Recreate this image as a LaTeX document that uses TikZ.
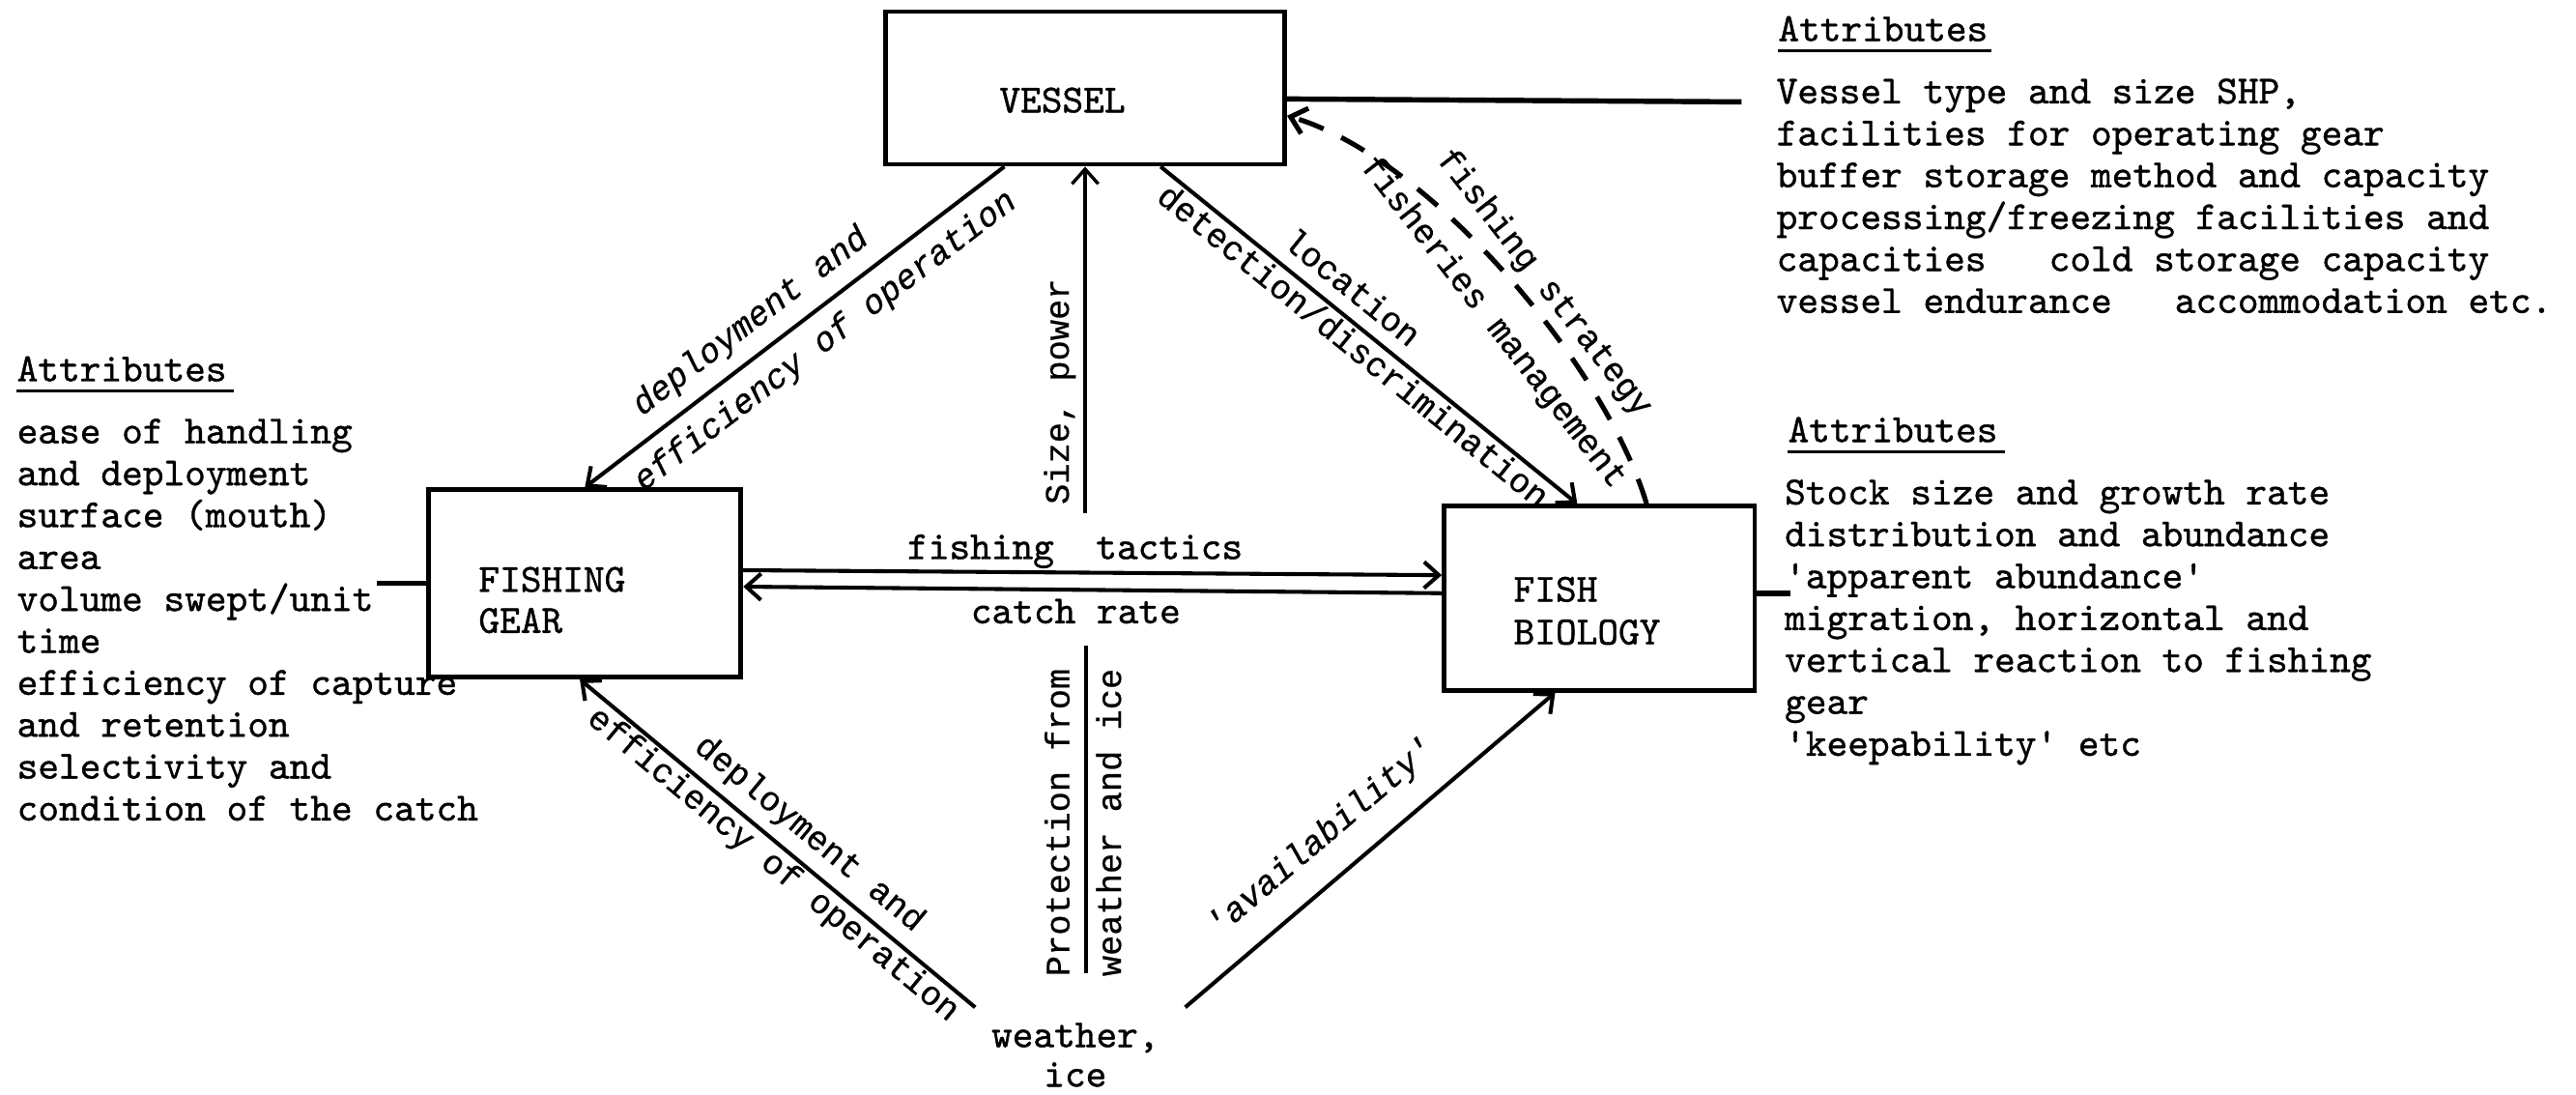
\documentclass[tikz,border=0pt]{standalone}
\usepackage{fontspec}
\usetikzlibrary{arrows.meta,calc}
\newfontfamily\courfont{Liberation Mono}[FakeBold=0.6]
\newfontfamily\typefam{lmmono10-regular}[Extension=.otf, FakeBold=0.9]
\newcommand\attrfont{\typefam\fontsize{12.15}{12.75}\selectfont}
\newcommand\labfont{\courfont\fontsize{10.4}{12}\selectfont}
\newcommand\itlabfont{\courfont\itshape\fontsize{10.4}{12}\selectfont}

\tikzset{
  unitbox/.style={draw, line width=1.4pt, inner sep=0pt, rectangle},
  boxtext/.style={font=\attrfont, inner sep=0pt, align=left},
  attrtext/.style={font=\attrfont, inner sep=0pt, align=left, anchor=north west},
  heading/.style={font=\attrfont, inner sep=0pt, anchor=base west},
  underl/.style={line width=0.8pt},
  lab/.style={font=\labfont, inner sep=1.5pt, text height=6.6pt, text depth=2.2pt},
  itlab/.style={lab, font=\itlabfont},
  midlab/.style={font=\attrfont, text height=7.4pt, text depth=2.6pt},
  link/.style={line width=1.2pt, -{Straight Barb[length=4.5pt,width=8pt]}},
  dashlink/.style={link, line width=1.5pt, dash pattern=on 8pt off 6pt},
  plain/.style={line width=1.1pt},
  stub/.style={line width=1.6pt},
}

\begin{document}
\begin{tikzpicture}[x=0.5pt, y=-0.5pt]
\path[use as bounding box] (0,0) rectangle (1568,666);

% the three units
\node[unitbox, minimum width=121.5pt, minimum height=46.5pt] (vessel) at (660.5,53.5) {};
\node[unitbox, minimum width=95pt, minimum height=57pt] (gear) at (356,355) {};
\node[unitbox, minimum width=94.5pt, minimum height=56pt] (fb) at (973.5,364) {};

\node[boxtext, anchor=base west] (vtxt) at (608,68.4) {VESSEL};
\node[boxtext, anchor=north west, font=\typefam\fontsize{12.15}{12.5}\selectfont] (gtxt) at (291,344.6) {FISHING\\GEAR};
\node[boxtext, anchor=north west, font=\typefam\fontsize{12.15}{13}\selectfont] (ftxt) at (921,350.6) {FISH\\BIOLOGY};

\node[boxtext, align=center, anchor=north, font=\typefam\fontsize{12.15}{12}\selectfont] (weather) at (654.5,622) {weather,\\ice};

% attribute lists
\node[heading] (vhead) at (1082,25) {Attributes};
\draw[underl] ([yshift=-3pt]vhead.base west) -- ([yshift=-3pt,xshift=1pt]vhead.base east);
\node[attrtext] (vattr) at (1081,47.4) {Vessel type and size SHP,\\facilities for operating gear\\buffer storage method and capacity\\processing/freezing facilities and\\capacities\ \ \ cold storage capacity\\vessel endurance\ \ \ accommodation etc.};

\node[heading] (ghead) at (10,232) {Attributes};
\draw[underl] ([yshift=-3pt]ghead.base west) -- ([yshift=-3pt,xshift=2pt]ghead.base east);
\node[attrtext] (gattr) at (10,254.4) {ease of handling\\and deployment\\surface (mouth)\\area\\volume swept/unit\\time\\efficiency of capture\\and retention\\selectivity and\\condition of the catch};

\node[heading] (fhead) at (1088,269) {Attributes};
\draw[underl] ([yshift=-3pt]fhead.base west) -- ([yshift=-3pt,xshift=2pt]fhead.base east);
\node[attrtext] (fattr) at (1086,291.4) {Stock size and growth rate\\distribution and abundance\\\textquotesingle apparent abundance\textquotesingle\\migration, horizontal and\\vertical reaction to fishing\\gear\\\textquotesingle keepability\textquotesingle{} etc};

% ties from the units to their attribute lists
\coordinate (vattrend) at (1060,62);
\draw[stub] ($(vessel.north east)!0.57!(vessel.south east)$) -- (vattrend);
\coordinate (gearstubend) at (229.5,355);
\draw[stub] (gear.west) -- (gearstubend);
\coordinate (fbstubend) at (1090,361);
\draw[stub] ([yshift=1.5pt]fb.east) -- (fbstubend);

% vessel to fishing gear
\draw[link] ($(vessel.south west)!0.30!(vessel.south east)$) -- (gear.north)
  node[itlab, sloped, above=2.3pt, pos=0.56] (dep1) {deployment and}
  node[itlab, sloped, below=3.2pt, pos=0.47] (eff1) {efficiency of operation};

% size and power
\coordinate (sizebase) at (660.5,312);
\draw[link, line width=1pt] (sizebase) -- (vessel.south)
  node[lab, sloped, above=0.8pt, pos=0.35] (sizelab) {Size, power};

% vessel to fish biology
\draw[link] ($(vessel.south west)!0.687!(vessel.south east)$) -- ($(fb.north west)!0.43!(fb.north east)$)
  node[lab, sloped, above=0.3pt, pos=0.42] (loclab) {location}
  node[lab, sloped, below=0.2pt, pos=0.49] (detlab) {detection/discrimination};

% fish biology back to vessel
\draw[dashlink] ($(fb.north west)!0.65!(fb.north east)$) .. controls +(-26,-86) and +(86,25) .. ($(vessel.north east)!0.677!(vessel.south east)$);
\node[lab, rotate=-52] (stratlab) at (939,173) {fishing strategy};
\node[lab, rotate=-52] (mgmtlab) at (908,197) {fisheries management};

% gear and fish biology
\draw[link] ([yshift=4pt]gear.east) -- ([yshift=7pt]fb.west)
  node[midlab, above, inner sep=0.9pt, pos=0.475] (tactlab) {fishing\ \ tactics};
\draw[link] ([yshift=1.5pt]fb.west) -- ([yshift=-1pt]gear.east)
  node[midlab, below, inner sep=2.2pt, pos=0.524] (catchlab) {catch rate};

% weather and ice
\draw[link] ([xshift=-4.75pt,yshift=4.5pt]weather.north west) -- ($(gear.south west)!0.484!(gear.south east)$)
  node[lab, sloped, above=1.3pt, pos=0.464] (dep2) {deployment and}
  node[lab, sloped, below=0pt, pos=0.48] (eff2) {efficiency of operation};
\draw[link] ([xshift=7.75pt,yshift=4.5pt]weather.north east) -- ($(fb.south west)!0.36!(fb.south east)$)
  node[itlab, sloped, above=5.3pt, pos=0.44] (avail) {\textquotesingle availability\textquotesingle};

\coordinate (protlow) at (661,592);
\coordinate (prothigh) at (661,393);
\draw[plain] (protlow) -- (prothigh)
  node[lab, sloped, above=0.8pt, pos=0.46] (protA) {Protection from}
  node[lab, sloped, below=2pt, pos=0.46] (protB) {weather and ice};
\end{tikzpicture}
\end{document}
